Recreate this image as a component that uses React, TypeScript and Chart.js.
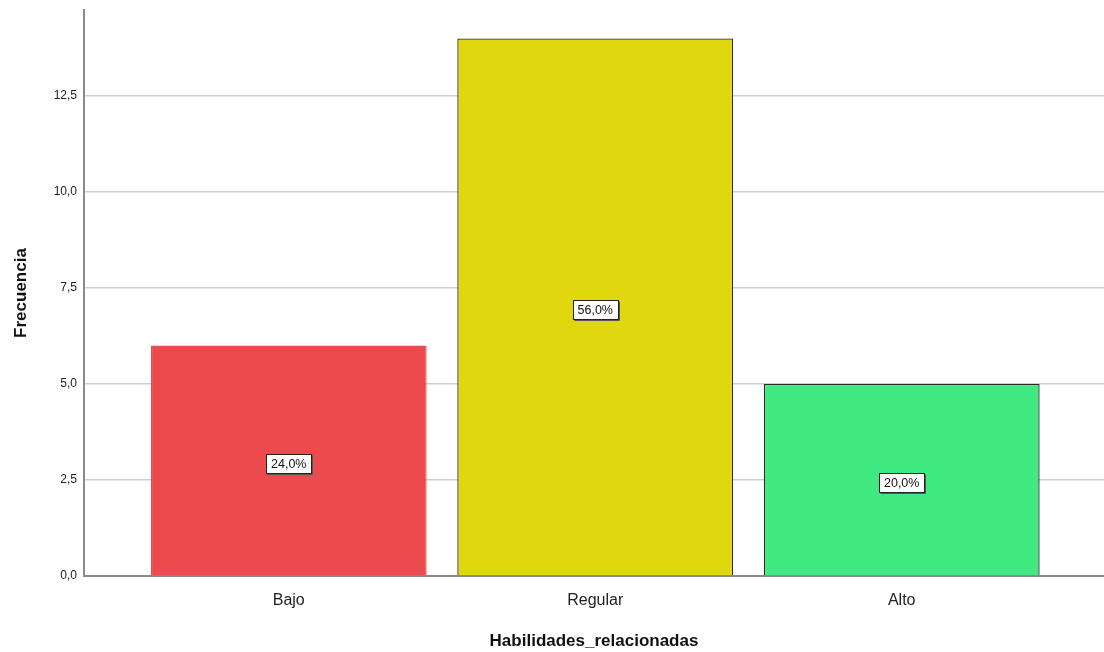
import React, { useEffect, useRef } from "react";
import { Chart, registerables } from "chart.js";

Chart.register(...registerables);

const categories = ["Bajo", "Regular", "Alto"];
const frequencies = [6, 14, 5];
const percentLabels = ["24,0%", "56,0%", "20,0%"];
const yTicks = [0, 2.5, 5, 7.5, 10, 12.5];
const barColors = ["#EC4A4D", "#E1D70F", "#40EA80"];
const barBorders = ["#EC4A4D", "#2a2a2a", "#2a2a2a"];

const FONT = "'Liberation Sans', Arial, sans-serif";

const labelPlugin = {
  id: "boxLabels",
  afterDatasetsDraw(chart: any) {
    const ctx = chart.ctx;
    const meta = chart.getDatasetMeta(0);
    ctx.save();
    ctx.font = `12.5px ${FONT}`;
    ctx.textAlign = "center";
    ctx.textBaseline = "middle";
    meta.data.forEach((bar: any, i: number) => {
      const props = bar.getProps(["x", "y", "base"], true);
      const cx = props.x;
      const cy = (props.y + props.base) / 2 + 3;
      const text = percentLabels[i];
      const w = Math.round(ctx.measureText(text).width + 10);
      const h = 19;
      const x0 = Math.round(cx - w / 2) + 0.5;
      const y0 = Math.round(cy - h / 2) + 0.5;
      ctx.fillStyle = "#ffffff";
      ctx.fillRect(x0, y0, w, h);
      ctx.strokeStyle = "#222";
      ctx.lineWidth = 1;
      ctx.strokeRect(x0, y0, w, h);
      ctx.beginPath();
      ctx.moveTo(x0 + w + 1, y0 + 1);
      ctx.lineTo(x0 + w + 1, y0 + h + 1);
      ctx.lineTo(x0 + 1, y0 + h + 1);
      ctx.strokeStyle = "#555";
      ctx.stroke();
      ctx.fillStyle = "#111";
      ctx.fillText(text, cx, cy + 1);
    });
    ctx.restore();
  },
};

export default function App() {
  const ref = useRef<HTMLCanvasElement | null>(null);
  useEffect(() => {
    if (!ref.current) return;
    const chart = new Chart(ref.current, {
      type: "bar",
      data: {
        datasets: [
          {
            data: frequencies.map((v, i) => ({ x: i, y: v })),
            backgroundColor: barColors,
            borderColor: barBorders,
            borderWidth: 1.3,
            barPercentage: 0.9,
            categoryPercentage: 1,
          },
        ],
      },
      options: {
        animation: false,
        responsive: true,
        maintainAspectRatio: false,
        layout: { padding: { top: 10, right: 0, left: 0, bottom: 0 } },
        plugins: { legend: { display: false }, tooltip: { enabled: false } },
        scales: {
          x: {
            type: "linear",
            offset: false,
            min: -0.668,
            max: 2.66,
            grid: { display: false, drawTicks: false, offset: false },
            border: { display: true, color: "#8a8a8a", width: 2 },
            afterBuildTicks: (s: any) => {
              s.ticks = categories.map((_, i) => ({ value: i }));
            },
            afterFit: (s: any) => {
              s.height = 76;
            },
            ticks: {
              padding: 15,
              color: "#222",
              font: { family: FONT, size: 16 },
              callback: (v: any) => categories[v] ?? "",
            },
            title: {
              display: true,
              text: "Habilidades_relacionadas",
              color: "#111",
              font: { family: FONT, size: 17, weight: "bold" },
              padding: { top: 10, bottom: 0 },
            },
          },
          y: {
            min: 0,
            max: 14.74,
            grid: { color: "#cfcfcf", lineWidth: 1.5, drawTicks: false },
            border: { display: true, color: "#8a8a8a", width: 2 },
            afterBuildTicks: (s: any) => {
              s.ticks = yTicks.map((v) => ({ value: v }));
            },
            afterFit: (s: any) => {
              s.width = 84;
              s.paddingTop = 0;
              s.paddingBottom = 0;
            },
            ticks: {
              padding: 7,
              color: "#222",
              font: { family: FONT, size: 12 },
              callback: (v: any) => Number(v).toFixed(1).replace(".", ","),
            },
            title: {
              display: true,
              text: "Frecuencia",
              color: "#111",
              font: { family: FONT, size: 17, weight: "bold" },
              padding: { top: 11, bottom: 0 },
            },
          },
        },
      } as any,
      plugins: [labelPlugin],
    });
    return () => chart.destroy();
  }, []);
  return (
    <div style={{ position: "absolute", left: 0, top: 0, width: 1104, height: 652, background: "#fff" }}>
      <canvas ref={ref} />
    </div>
  );
}
